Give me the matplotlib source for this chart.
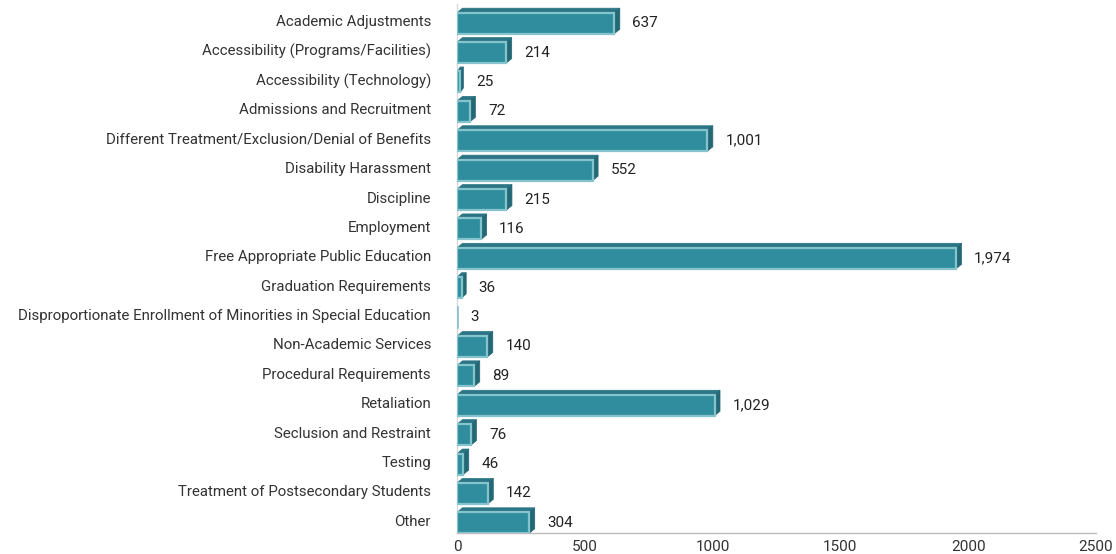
import matplotlib
matplotlib.use("Agg")
import matplotlib.pyplot as plt
from matplotlib.patches import Polygon

categories = [
    "Academic Adjustments",
    "Accessibility (Programs/Facilities)",
    "Accessibility (Technology)",
    "Admissions and Recruitment",
    "Different Treatment/Exclusion/Denial of Benefits",
    "Disability Harassment",
    "Discipline",
    "Employment",
    "Free Appropriate Public Education",
    "Graduation Requirements",
    "Disproportionate Enrollment of Minorities in Special Education",
    "Non-Academic Services",
    "Procedural Requirements",
    "Retaliation",
    "Seclusion and Restraint",
    "Testing",
    "Treatment of Postsecondary Students",
    "Other",
]
values = [637, 214, 25, 72, 1001, 552, 215, 116, 1974, 36, 3, 140, 89, 1029, 76, 46, 142, 304]
xticks = [0, 500, 1000, 1500, 2000, 2500]

FONT = ["Roboto", "DejaVu Sans"]
plt.rcParams["font.family"] = FONT

W, H, DPI = 11.16, 5.54, 100
fig = plt.figure(figsize=(W, H), dpi=DPI)
left, right, bottom, top = 457/1116, 1096/1116, 1 - 533/554, 1 - 4/554
ax = fig.add_axes([left, bottom, right - left, top - bottom])

n = len(categories)
xmax = 2500
ax.set_xlim(0, xmax)
shift = 0.068
ax.set_ylim(n - 0.5 - shift, -0.5 - shift)

ax_w_px = (right - left) * W * DPI
ax_h_px = (top - bottom) * H * DPI
dx = 5.5 * xmax / ax_w_px
dy = 4.5 * n / ax_h_px
h = 0.715
off = 0.085

front_c = "#2f8d9e"
edge_c = "#86c4cd"
top_c = "#2b7584"
side_c = "#246876"

for i, v in enumerate(values):
    if v >= 10:
        ddx = min(dx, v * 0.5)
        fw = v - ddx
        y0 = i + h / 2 + off    # bottom of front face (inverted axis)
        y1 = y0 - h             # top of front face
        ax.add_patch(Polygon([(0, y1), (fw, y1), (fw + ddx, y1 - dy), (ddx, y1 - dy)],
                             closed=True, facecolor=top_c, edgecolor=top_c, lw=0.5, zorder=2))
        ax.add_patch(Polygon([(fw, y1), (fw + ddx, y1 - dy), (fw + ddx, y0 - dy), (fw, y0)],
                             closed=True, facecolor=side_c, edgecolor=side_c, lw=0.5, zorder=2))
        ax.barh(i + off, fw, left=0, height=h, color=front_c, edgecolor=edge_c,
                linewidth=1.6, zorder=3)
    else:
        ax.barh(i + off, v, left=0, height=h, color=edge_c, edgecolor=edge_c,
                linewidth=1.2, zorder=3)
    ax.annotate(f"{v:,}", xy=(v, i + off), xytext=(9, 0), textcoords="offset points",
                va="center", ha="left", fontsize=11, color="#222222")

ax.set_yticks(range(n))
ax.set_yticklabels(categories, fontsize=10.8, color="#333333")
ax.tick_params(axis="y", length=0, pad=18.7)
ax.set_xticks(xticks)
ax.set_xticklabels([str(t) for t in xticks], fontsize=11, color="#333333")
ax.tick_params(axis="x", length=0, pad=5)

for s in ["top", "right"]:
    ax.spines[s].set_visible(False)
ax.spines["left"].set_color("#d8d8d8")
ax.spines["bottom"].set_color("#bdbdbd")
ax.spines["left"].set_linewidth(1)
ax.spines["bottom"].set_linewidth(1)

fig.savefig("out.png", dpi=DPI)
